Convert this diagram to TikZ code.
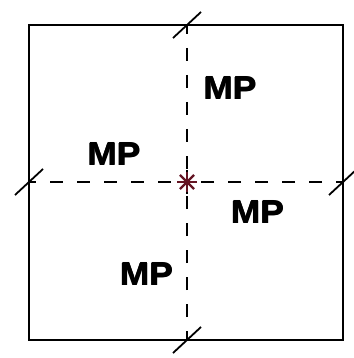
\documentclass[tikz,border=0pt]{standalone}
\usepackage{fontspec}
\setmainfont{Liberation Sans}
\newcommand{\heavytext}[1]{\rlap{\hspace{0.8pt}#1}\rlap{\raisebox{0.4pt}{\hspace{0.4pt}#1}}#1}
\begin{document}
\begin{tikzpicture}[x=1pt,y=-1pt,
  frame/.style={line width=2.2pt,draw=black},
  axisline/.style={line width=2.2pt,dash pattern=on 13pt off 14pt},
  tickmark/.style={line width=1.8pt},
  lbl/.style={font=\bfseries\fontsize{32}{32}\selectfont,inner sep=0pt,xscale=1.1},
  starline/.style={line width=2.4pt,draw={rgb,255:red,100;green,20;blue,35}}]
\useasboundingbox (0,0) rectangle (353,358);
\coordinate (tl) at (29,25);
\coordinate (br) at (343,340);
\coordinate (c) at (187,182);
\coordinate (t) at (187,25);
\coordinate (b) at (187,340);
\coordinate (l) at (29,182);
\coordinate (r) at (343,182);
\draw[frame] (tl) rectangle (br);
\draw[axisline,dash phase=6pt] (l) -- ([xshift=-12pt]c);
\draw[axisline,dash phase=6pt] (r) -- ([xshift=12pt]c);
\draw[axisline,dash phase=4pt] (t) -- ([yshift=-12pt]c);
\draw[axisline,dash phase=4pt] (b) -- ([yshift=12pt]c);
\foreach \p in {t,b,l,r}{
  \draw[tickmark] ([shift={(-14,13)}]\p) -- ([shift={(14,-13)}]\p);
}
\foreach \a in {0,45,90,135}{
  \draw[starline] ([shift={(\a:10)}]c) -- ([shift={(\a+180:10)}]c);
}
\node[lbl] (mp1) at (229.5,88) {\heavytext{MP}};
\node[lbl] (mp2) at (113.5,154) {\heavytext{MP}};
\node[lbl] (mp3) at (257,212) {\heavytext{MP}};
\node[lbl] (mp4) at (146,274) {\heavytext{MP}};
\end{tikzpicture}
\end{document}
